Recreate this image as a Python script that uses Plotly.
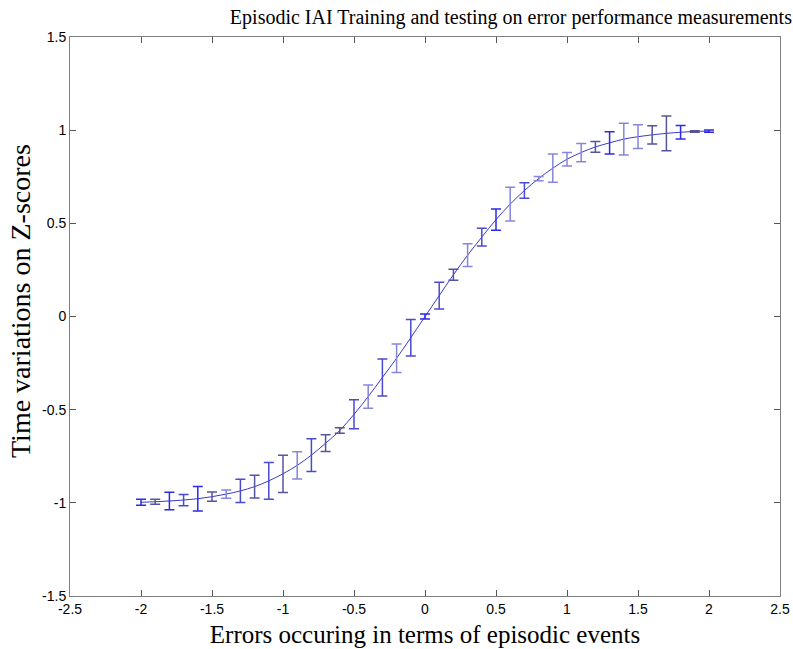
import plotly.graph_objects as go

# ---- data ----
x_vals = [-2.0, -1.9, -1.8, -1.7, -1.6, -1.5, -1.4, -1.3, -1.2, -1.1, -1.0,
          -0.9, -0.8, -0.7, -0.6, -0.5, -0.4, -0.3, -0.2, -0.1, 0.0,
          0.1, 0.2, 0.3, 0.4, 0.5, 0.6, 0.7, 0.8, 0.9, 1.0,
          1.1, 1.2, 1.3, 1.4, 1.5, 1.6, 1.7, 1.8, 1.9, 2.0]
y_mean = [-0.997, -0.994, -0.990, -0.985, -0.978, -0.967, -0.953, -0.936, -0.913, -0.882, -0.844,
          -0.799, -0.744, -0.680, -0.612, -0.525, -0.430, -0.327, -0.224, -0.114, 0.000,
          0.112, 0.224, 0.329, 0.426, 0.520, 0.603, 0.676, 0.740, 0.796, 0.844,
          0.880, 0.910, 0.932, 0.952, 0.965, 0.975, 0.983, 0.989, 0.993, 0.995]
y_err = [0.016, 0.013, 0.047, 0.030, 0.066, 0.025, 0.022, 0.062, 0.061, 0.099, 0.100,
         0.073, 0.088, 0.045, 0.015, 0.078, 0.063, 0.099, 0.077, 0.098, 0.014,
         0.072, 0.030, 0.061, 0.047, 0.057, 0.090, 0.042, 0.011, 0.076, 0.036,
         0.049, 0.029, 0.060, 0.085, 0.064, 0.049, 0.093, 0.036, 0.004, 0.006]

x_ticks = [-2.5, -2, -1.5, -1, -0.5, 0, 0.5, 1, 1.5, 2, 2.5]
x_tick_text = ["-2.5", "-2", "-1.5", "-1", "-0.5", "0", "0.5", "1", "1.5", "2", "2.5"]
y_ticks = [-1.5, -1, -0.5, 0, 0.5, 1, 1.5]
y_tick_text = ["-1.5", "-1", "-0.5", "0", "0.5", "1", "1.5"]

title_text = "Episodic IAI Training and testing on error performance measurements"
x_title = "Errors occuring in terms of episodic events"
y_title = "Time variations on Z-scores"

# ---- styles ----
bar_style = ["B", "N", "B", "M", "B", "N", "L", "M", "N", "M", "N",
             "L", "M", "N", "N", "M", "L", "M", "L", "M", "B",
             "M", "N", "L", "M", "B", "L", "M", "L", "L", "L",
             "L", "N", "B", "L", "L", "N", "N", "B", "N", "B"]
style_colors = {"B": "#2b2be6", "N": "#55559e", "M": "#4a4ad0", "L": "#8686dc"}

fig = go.Figure()

fig.add_trace(go.Scatter(
    x=x_vals, y=y_mean, mode="lines",
    line=dict(color="#3a3ad0", width=1, shape="spline"),
    showlegend=False, hoverinfo="skip"))

for key, col in style_colors.items():
    idx = [i for i, s in enumerate(bar_style) if s == key]
    fig.add_trace(go.Scatter(
        x=[x_vals[i] for i in idx],
        y=[y_mean[i] for i in idx],
        mode="markers",
        marker=dict(size=1, color="rgba(0,0,0,0)"),
        error_y=dict(type="data", array=[y_err[i] for i in idx],
                     color=col, thickness=1.5, width=5, visible=True),
        showlegend=False))

serif = "Liberation Serif, Times New Roman, serif"
sans = "Liberation Sans, Arial, sans-serif"

fig.update_layout(
    width=793, height=649,
    margin=dict(l=70, r=13, t=37, b=53),
    paper_bgcolor="white", plot_bgcolor="white",
    title=dict(text=title_text, font=dict(family=serif, size=20, color="black"),
               x=0.621, xref="paper", xanchor="center",
               y=1 - 17 / 649, yref="container", yanchor="middle"),
    showlegend=False,
    annotations=[dict(text=y_title, textangle=-90, showarrow=False,
                      xref="paper", yref="paper",
                      x=(20 - 70) / 710, y=(596 - 301) / 559,
                      xanchor="center", yanchor="middle",
                      font=dict(family=serif, size=28, color="black"))],
)

fig.update_xaxes(
    range=[-2.5, 2.5], tickvals=x_ticks, ticktext=x_tick_text,
    showgrid=False, zeroline=False,
    showline=True, linecolor="#808080", linewidth=1, mirror="ticks",
    ticks="inside", ticklen=6, tickcolor="#555555",
    tickfont=dict(family=sans, size=14, color="black"),
    title=dict(text=x_title, font=dict(family=serif, size=25, color="black"), standoff=9),
    automargin=False)

fig.update_yaxes(
    range=[-1.5, 1.5], tickvals=y_ticks, ticktext=y_tick_text,
    showgrid=False, zeroline=False,
    showline=True, linecolor="#808080", linewidth=1, mirror="ticks",
    ticks="inside", ticklen=6, tickcolor="#555555",
    tickfont=dict(family=sans, size=14, color="black"),
    automargin=False)

fig.write_html("out.html", config={"displayModeBar": False},
               post_script="document.body.style.margin='0';")
